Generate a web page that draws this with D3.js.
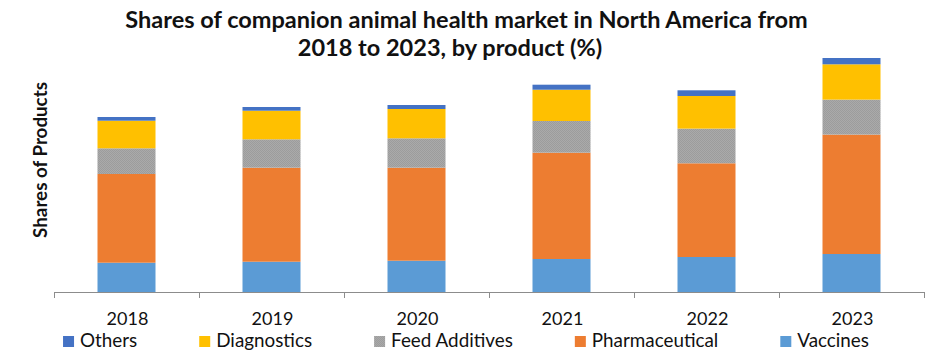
<!DOCTYPE html>
<html><head><meta charset="utf-8">
<script src="https://cdnjs.cloudflare.com/ajax/libs/d3/7.8.5/d3.min.js"></script>
<style>body{margin:0;background:#fff}svg{display:block}text{font-family:Lato,"Open Sans",sans-serif}</style>
</head><body>
<svg id="c" width="935" height="360"></svg>
<script>
const years = ["2018","2019","2020","2021","2022","2023"];
const seriesNames = ["Vaccines","Pharmaceutical","Feed Additives","Diagnostics","Others"];
const vaccines       = [29.3, 30.3, 31.3, 33.0, 35.0, 38.0];
const pharmaceutical = [88.7, 94.0, 93.0, 106.3, 93.7, 119.4];
const feedAdditives  = [25.7, 28.4, 29.4, 31.7, 34.7, 35.0];
const diagnostics    = [27.6, 28.6, 29.3, 31.3, 32.6, 35.3];
const others         = [3.7, 3.7, 4.0, 5.0, 5.7, 6.3];
const legendOrder = ["Others","Diagnostics","Feed Additives","Pharmaceutical","Vaccines"];
const titleLines = ["Shares of companion animal health market in North America from","2018 to 2023, by product (%)"];
const yLabel = "Shares of Products";

const colors = {"Vaccines":"#5B9BD5","Pharmaceutical":"#ED7D31","Feed Additives":"url(#grayPat)","Diagnostics":"#FFC000","Others":"#4472C4"};

const table = years.map((y,i)=>({year:y,"Vaccines":vaccines[i],"Pharmaceutical":pharmaceutical[i],"Feed Additives":feedAdditives[i],"Diagnostics":diagnostics[i],"Others":others[i]}));

const svg = d3.select("#c");
const defs = svg.append("defs");
const pat = defs.append("pattern").attr("id","grayPat").attr("width",2).attr("height",2).attr("patternUnits","userSpaceOnUse");
pat.append("rect").attr("width",2).attr("height",2).attr("fill","#aaaaaa");
pat.append("rect").attr("width",1).attr("height",1).attr("fill","#9c9c9c");
pat.append("rect").attr("x",1).attr("y",1).attr("width",1).attr("height",1).attr("fill","#9c9c9c");

const x = d3.scaleBand().domain(years).range([54,924]).paddingInner(0.6).paddingOuter(0.3);
const y = d3.scaleLinear().domain([0,240]).range([292,52]);

const stack = d3.stack().keys(seriesNames)(table);
svg.append("g").selectAll("g").data(stack).join("g")
  .attr("fill",d=>colors[d.key])
  .selectAll("rect").data(d=>d).join("rect")
  .attr("x",d=>x(d.data.year)).attr("width",x.bandwidth())
  .attr("y",d=>y(d[1])).attr("height",d=>y(d[0])-y(d[1]));

// axis
const ax = svg.append("g").attr("transform","translate(0,292)").call(d3.axisBottom(x).tickSize(0).tickFormat(""));
ax.select(".domain").attr("stroke","#8c8c8c").attr("stroke-width",1.2);
const step = x.step();
const bounds = years.map(yv=>x(yv)-step*0.3).concat([x(years[years.length-1])+x.bandwidth()+step*0.3]);
svg.append("g").selectAll("line").data(bounds).join("line")
  .attr("x1",d=>Math.round(d)+0.5).attr("x2",d=>Math.round(d)+0.5).attr("y1",292).attr("y2",298)
  .attr("stroke","#8c8c8c").attr("stroke-width",1);
svg.append("g").selectAll("text").data(years).join("text")
  .attr("x",d=>x(d)+x.bandwidth()/2+1).attr("y",325).attr("text-anchor","middle")
  .attr("font-size",18).attr("fill","#111").text(d=>d);

// title
const t1 = svg.append("text").attr("x",466.5).attr("y",28).attr("text-anchor","middle").attr("font-weight","bold").attr("font-size",21).attr("fill","#111").text(titleLines[0]);
const w1 = t1.node().getComputedTextLength();
const fs = 21*683/w1;
t1.attr("font-size",fs);
svg.append("text").attr("x",450).attr("y",56).attr("text-anchor","middle").attr("font-weight","bold").attr("font-size",fs).attr("fill","#111").text(titleLines[1]);

// y label
const yl = svg.append("text").attr("transform","translate(47,160) rotate(-90)").attr("text-anchor","middle").attr("font-weight","bold").attr("font-size",17).attr("fill","#111").text(yLabel);
yl.attr("font-size",17*156/yl.node().getComputedTextLength());

// legend
const lg = svg.append("g");
function layoutLegend(fsz){
  lg.selectAll("*").remove();
  let cx = 0;
  legendOrder.forEach((k,i)=>{
    const g = lg.append("g").attr("transform",`translate(${cx},0)`);
    g.append("rect").attr("x",0).attr("y",336).attr("width",11).attr("height",11).attr("fill",colors[k]);
    const t = g.append("text").attr("x",17).attr("y",347).attr("font-size",fsz).attr("fill","#111").text(k);
    cx += 17 + t.node().getComputedTextLength() + (i<legendOrder.length-1?62:0);
  });
  return cx;
}
let total = layoutLegend(20);
const textPart = total - 5*17 - 4*62;
const lfs = 20*(806 - 5*17 - 4*62)/textPart;
total = layoutLegend(lfs);
lg.attr("transform",`translate(${466-total/2},0)`);
</script>
</body></html>
